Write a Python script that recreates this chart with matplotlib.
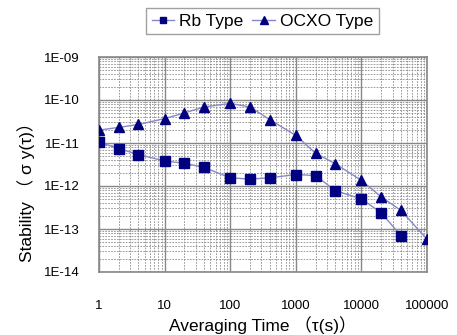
import matplotlib
matplotlib.use("Agg")
import matplotlib.pyplot as plt
from matplotlib.ticker import LogLocator, FixedLocator, NullFormatter

plt.rcParams['font.family'] = ['Liberation Sans', 'Noto Sans CJK JP', 'DejaVu Sans']

rb_tau = [1, 2, 4, 10, 20, 40, 100, 200, 400, 1000, 2000, 4000, 10000, 20000, 40000]
rb_sigma = [1.05e-11, 7.4e-12, 5.4e-12, 3.8e-12, 3.4e-12, 2.7e-12, 1.55e-12, 1.45e-12,
            1.55e-12, 1.85e-12, 1.75e-12, 7.8e-13, 5.0e-13, 2.4e-13, 7.0e-14]

ocxo_tau = [1, 2, 4, 10, 20, 40, 100, 200, 400, 1000, 2000, 4000, 10000, 20000, 40000, 100000]
ocxo_sigma = [2.0e-11, 2.3e-11, 2.7e-11, 3.7e-11, 5.0e-11, 6.9e-11, 8.3e-11, 6.9e-11,
              3.5e-11, 1.5e-11, 5.8e-12, 3.3e-12, 1.35e-12, 5.6e-13, 2.7e-13, 5.8e-14]

x_ticks = [1, 10, 100, 1000, 10000, 100000]
x_labels = ["1", "10", "100", "1000", "10000", "100000"]
y_ticks = [1e-14, 1e-13, 1e-12, 1e-11, 1e-10, 1e-9]
y_labels = ["1E-14", "1E-13", "1E-12", "1E-11", "1E-10", "1E-09"]

fig = plt.figure(figsize=(4.57, 3.35), dpi=100)
ax = fig.add_axes([99/457, 1-272/335, (427-99)/457, (272-57)/335])

line_c = '#8888c8'
mk_c = '#000080'
ax.plot(rb_tau, rb_sigma, color=line_c, lw=1.0, marker='s', ms=6.5,
        markerfacecolor=mk_c, markeredgecolor=mk_c, label='Rb Type', zorder=3)
ax.plot(ocxo_tau, ocxo_sigma, color=line_c, lw=1.0, marker='^', ms=7,
        markerfacecolor=mk_c, markeredgecolor=mk_c, label='OCXO Type', zorder=3)

ax.set_xscale('log')
ax.set_yscale('log')
ax.set_xlim(1, 100000)
ax.set_ylim(1e-14, 1e-9)
ax.xaxis.set_major_locator(FixedLocator(x_ticks))
ax.set_xticklabels(x_labels)
ax.yaxis.set_major_locator(FixedLocator(y_ticks))
ax.set_yticklabels(y_labels)
ax.xaxis.set_minor_locator(LogLocator(base=10, subs=range(2, 10), numticks=20))
ax.yaxis.set_minor_locator(LogLocator(base=10, subs=range(2, 10), numticks=20))
ax.xaxis.set_minor_formatter(NullFormatter())
ax.yaxis.set_minor_formatter(NullFormatter())

ax.grid(which='major', color='#888888', lw=1.0, ls='-')
ax.grid(which='minor', color='#8a8a8a', lw=0.6, ls=(0, (2, 1.5)))
ax.set_axisbelow(True)
ax.tick_params(which='both', length=0)
ax.tick_params(axis='x', pad=20, labelsize=9.5)
ax.tick_params(axis='y', pad=14, labelsize=9.5)
for s in ax.spines.values():
    s.set_color('#888888')
    s.set_linewidth(1.2)

ax.set_xlabel('Averaging Time （τ(s)）', fontsize=12.5, labelpad=3)
ax.set_ylabel('Stability （ σ y(τ)）', fontsize=12.5)
ax.yaxis.set_label_coords(-0.195, 0.39)

leg = fig.legend(loc='center', bbox_to_anchor=(262.5/457, 1-21/335), ncol=2,
                 frameon=True, fancybox=False, fontsize=12.5, handlelength=1.3,
                 handletextpad=0.3, columnspacing=0.5, borderpad=0.3, markerscale=0.75)
leg.get_frame().set_edgecolor('#888888')
leg.get_frame().set_linewidth(1.0)

fig.savefig('out.png', dpi=100)
